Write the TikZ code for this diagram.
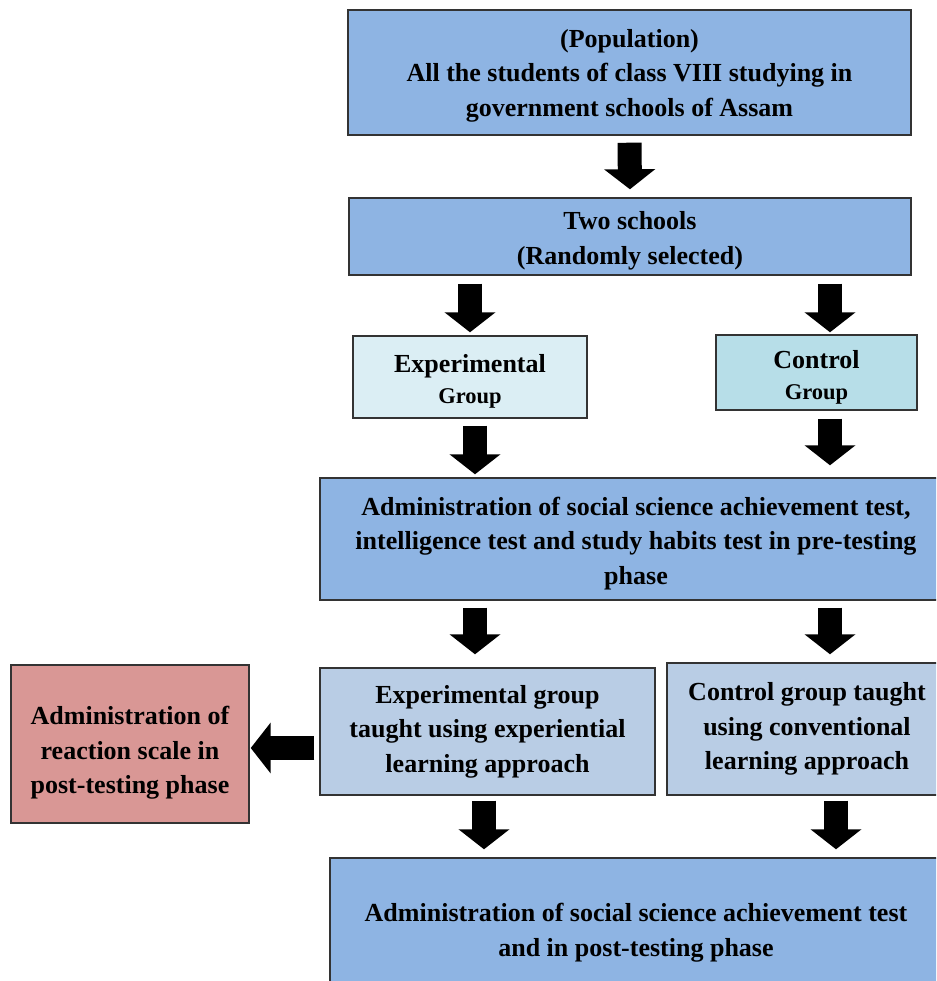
\documentclass[tikz,border=0pt]{standalone}
\usepackage{fontspec}
\setmainfont{Liberation Serif}
\usetikzlibrary{arrows.meta}

\definecolor{midblue}{RGB}{142,180,227}
\definecolor{paleblue}{RGB}{219,238,244}
\definecolor{tealblue}{RGB}{183,222,232}
\definecolor{greyblue}{RGB}{185,205,229}
\definecolor{rosered}{RGB}{217,151,149}

% taller first line pushes the text down in its box
\newcommand{\strutup}[1]{\rule{0pt}{#1}}

\tikzset{
    box/.style={draw=black!80, line width=1pt, inner sep=0pt, align=center,
        font=\fontsize{18.5}{24.5}\selectfont\bfseries},
    fat/.style={line width=0.6cm, -{Triangle[width=1.25cm,length=0.5cm]}},
}

\begin{document}
\begin{tikzpicture}[x=0.025cm,y=-0.025cm]
        \useasboundingbox (0,0) rectangle (936,981);
        \clip (0,0) rectangle (936,981);

        % boxes
        \node[box, fill=midblue, minimum width=14.075cm, minimum height=3.125cm] (pop) at (629.5,72.5)
            {\strutup{17pt}(Population)\\All the students of class VIII studying in\\government schools of Assam};
        \node[box, fill=midblue, minimum width=14.05cm, minimum height=1.925cm] (two) at (630,236.5)
            {\strutup{19pt}Two schools\\(Randomly selected)};
        \node[box, fill=paleblue, minimum width=5.85cm, minimum height=2.05cm] (exp) at (470,377)
            {\strutup{19pt}Experimental\\[-2pt]{\fontsize{16}{20}\selectfont Group}};
        \node[box, fill=tealblue, minimum width=5.025cm, minimum height=1.875cm] (ctl) at (816.5,372.5)
            {\strutup{20pt}Control\\[-2pt]{\fontsize{16}{20}\selectfont Group}};
        \node[box, fill=midblue, minimum width=15.8cm, minimum height=3.05cm] (pre) at (636,539)
            {\strutup{19pt}Administration of social science achievement test,\\intelligence test and study habits test in pre-testing\\phase};
        \node[box, fill=greyblue, minimum width=8.375cm, minimum height=3.175cm] (expt) at (487.5,731.5)
            {Experimental group\\taught using experiential\\learning approach};
        \node[box, fill=greyblue, minimum width=7cm, minimum height=3.3cm] (ctlt) at (807,729)
            {Control group taught\\using conventional\\learning approach};
        \node[box, fill=rosered, minimum width=5.95cm, minimum height=3.95cm] (react) at (130,744)
            {\strutup{26pt}Administration of\\reaction scale in\\post-testing phase};
        \node[box, fill=midblue, minimum width=15.3cm, minimum height=3.55cm] (post) at (636,929)
            {\strutup{18pt}Administration of social science achievement test\\and in post-testing phase};

        % arrows
        \coordinate (colL) at (475,0);
        \coordinate (colR) at (830,0);
        \coordinate (side) at (0,748);
        \draw[fat, shorten <=0.175cm, shorten >=0.2cm] (pop.south) -- (two.north);
        \draw[fat, shorten <=0.2cm, shorten >=0.075cm] (two.south -| exp.north) -- (exp.north);
        \draw[fat, shorten <=0.2cm, shorten >=0.05cm] (two.south -| colR) -- (ctl.north -| colR);
        \draw[fat, shorten <=0.175cm, shorten >=0.075cm] (exp.south -| colL) -- (pre.north -| colL);
        \draw[fat, shorten <=0.2cm, shorten >=0.3cm] (ctl.south -| colR) -- (pre.north -| colR);
        \draw[fat, shorten <=0.175cm, shorten >=0.325cm] (pre.south -| colL) -- (expt.north -| colL);
        \draw[fat, shorten <=0.175cm, shorten >=0.2cm] (pre.south -| colR) -- (ctlt.north -| colR);
        \draw[fat, shorten <=0.125cm, shorten >=0.2cm] (expt.south -| 484,0) -- (post.north -| 484,0);
        \draw[fat, shorten <=0.125cm, shorten >=0.2cm] (ctlt.south -| 836,0) -- (post.north -| 836,0);
        \draw[fat, shorten <=0.125cm, shorten >=0.025cm] (expt.west |- side) -- (react.east |- side);
\end{tikzpicture}
\end{document}
